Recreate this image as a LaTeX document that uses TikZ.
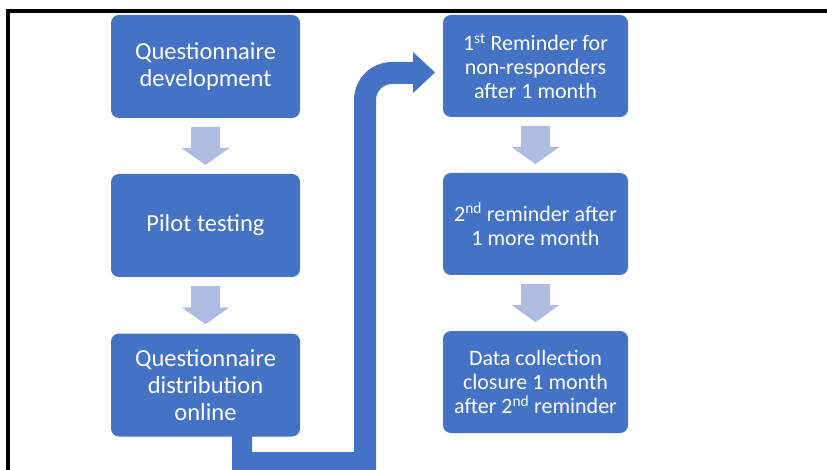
\documentclass[tikz,border=0pt]{standalone}
\usepackage{fontspec}
\setmainfont{Carlito}
\usetikzlibrary{calc}
\definecolor{boxblue}{RGB}{68,114,196}
\definecolor{chevblue}{RGB}{175,188,225}
\tikzset{
  stepbox/.style={fill=boxblue, rounded corners=8pt, inner sep=0pt, text=white, align=center},
  leftbox/.style={stepbox, minimum width=189pt, minimum height=103pt, font=\fontsize{24.5}{27}\selectfont},
  rightbox/.style={stepbox, minimum width=185pt, minimum height=102pt, font=\fontsize{22}{24}\selectfont},
}
\newcommand{\chevdown}[1]{%
  \fill[chevblue] (#1) ++(-14.5,-19) -- ++(29,0) -- ++(0,21) -- ++(9.5,0) -- ++(-24,17) -- ++(-24,-17) -- ++(9.5,0) -- cycle;}
\begin{document}
\begin{tikzpicture}[x=1pt,y=-1pt]
\useasboundingbox (0,0) rectangle (827,470);
\clip (0,0) rectangle (827,470);
\fill[white] (0,0) rectangle (827,470);
% frame
\fill[black] (6,9) rectangle (10,470);
\fill[black] (6,9) rectangle (827,13);
% left column
\node[leftbox] (b1) at (205.5,66.5) {Questionnaire\\development};
\node[leftbox] (b2) at (205.5,225.5) {Pilot testing};
\node[leftbox] (b3) at (205.5,385) {Questionnaire\\distribution\\online};
% right column
\node[rightbox] (r1) at (535.5,66) {1\textsuperscript{st} Reminder for\\non-responders\\after 1 month};
\node[rightbox] (r2) at (535.5,224) {2\textsuperscript{nd} reminder after\\1 more month};
\node[rightbox] (r3) at (535.5,382) {Data collection\\closure 1 month\\after 2\textsuperscript{nd} reminder};
% chevrons
\coordinate (m1) at ($(b1.south)!0.5!(b2.north)$);
\coordinate (m2) at ($(b2.south)!0.5!(b3.north)$);
\coordinate (m3) at ($(r1.south)!0.5!(r2.north)$);
\coordinate (m4) at ($(r2.south)!0.5!(r3.north)$);
\chevdown{m1}
\chevdown{m2}
\chevdown{m3}
\chevdown{m4}
% big bent arrow from b3 to r1
\coordinate (s) at (232,433);
\coordinate (t) at (435,72.5);
\fill[boxblue] (s) -- (232,475) -- (376,475) -- (376,100)
  arc[start angle=180, end angle=270, radius=16] -- (413,84) -- (413,93)
  -- (t) -- (413,52) -- (413,62) -- (392,62)
  arc[start angle=270, end angle=180, radius=38] -- (354,452) -- (252,452) -- (252,433) -- cycle;
\end{tikzpicture}
\end{document}
